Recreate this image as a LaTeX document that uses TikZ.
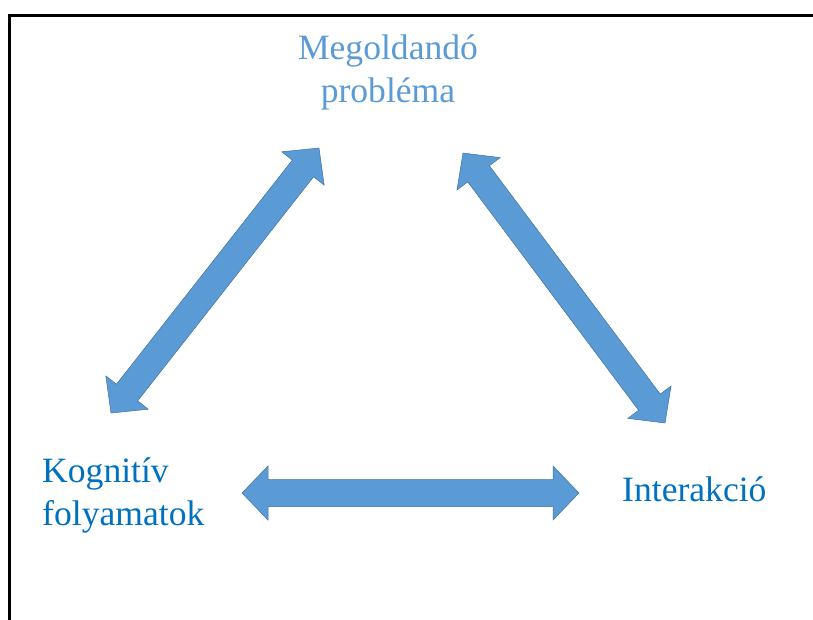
\documentclass[tikz,border=0pt]{standalone}
\usepackage{fontspec}
\setmainfont{Liberation Serif}
\usetikzlibrary{calc}
\definecolor{arrowblue}{HTML}{5B9BD5}
\definecolor{arrowedge}{HTML}{41719C}
\definecolor{textdark}{HTML}{0070C0}
\definecolor{textlight}{HTML}{5B9BD5}
\tikzset{
  blockarrow/.style={fill=arrowblue, draw=arrowedge, line width=0.5pt, line join=miter},
  label/.style={inner sep=0pt, font=\fontsize{35.6}{43}\selectfont},
  frameline/.style={line width=3pt, line join=miter}
}
\newcommand{\dblarrow}[2]{%
  \draw[blockarrow] (#1)
    -- ($(#1)!26pt!(#2)!27pt!90:(#2)$)
    -- ($(#1)!26pt!(#2)!13.5pt!90:(#2)$)
    -- ($(#2)!26pt!(#1)!13.5pt!-90:(#1)$)
    -- ($(#2)!26pt!(#1)!27pt!-90:(#1)$)
    -- (#2)
    -- ($(#2)!26pt!(#1)!27pt!90:(#1)$)
    -- ($(#2)!26pt!(#1)!13.5pt!90:(#1)$)
    -- ($(#1)!26pt!(#2)!13.5pt!-90:(#2)$)
    -- ($(#1)!26pt!(#2)!27pt!-90:(#2)$)
    -- cycle;}
\begin{document}
\begin{tikzpicture}[x=1pt,y=-1pt]
\useasboundingbox (0,0) rectangle (813,619);
% frame
\coordinate (fbl) at (9.5,620);
\coordinate (ftl) at (9.5,15.5);
\coordinate (ftr) at (814,15.5);
\draw[frameline] (fbl) -- (ftl) -- (ftr);
% labels
\node[label, text=textlight, align=center, anchor=base] (prob) at (388,102) {Megoldandó\\probléma};
\node[label, text=textdark, align=left, anchor=base west] (kog) at (42,525) {Kognitív\\folyamatok};
\node[label, text=textdark, anchor=base west] (inter) at (622,501) {Interakció};
% arrow ends
\coordinate (h1) at (242,493);
\coordinate (h2) at (579,493);
\coordinate (l1) at (111,413);
\coordinate (l2) at (319,148);
\coordinate (r1) at (463,153);
\coordinate (r2) at (665,423);
\dblarrow{h1}{h2}
\dblarrow{l1}{l2}
\dblarrow{r1}{r2}
\end{tikzpicture}
\end{document}
